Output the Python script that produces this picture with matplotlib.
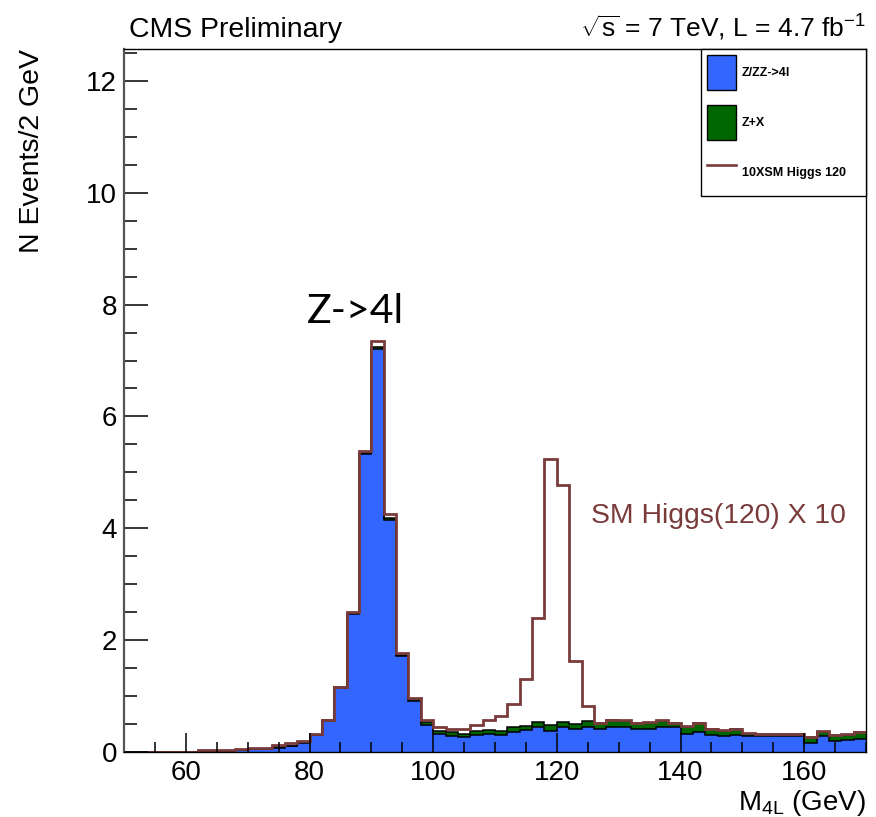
import matplotlib
matplotlib.use("Agg")
import matplotlib.pyplot as plt
import numpy as np
from matplotlib.patches import Patch
from matplotlib.lines import Line2D

plt.rcParams['font.family'] = ['Liberation Sans', 'DejaVu Sans']
plt.rcParams['mathtext.fontset'] = 'custom'
plt.rcParams['mathtext.rm'] = 'Liberation Sans'
plt.rcParams['mathtext.it'] = 'Liberation Sans:italic'
plt.rcParams['mathtext.bf'] = 'Liberation Sans:bold'

# 2 GeV bins, 50 - 170 GeV
edges = np.arange(50, 172, 2)

# Z/ZZ->4l (blue, bottom of stack)
zz = np.array([
    0, 0, 0, 0, 0, 0,
    0.02, 0.02, 0.02, 0.03,
    0.05, 0.05, 0.08, 0.10, 0.16,
    0.30, 0.56, 1.15, 2.46, 5.33,
    7.21, 4.15, 1.71, 0.92, 0.48,
    0.33, 0.29, 0.26, 0.30, 0.33,
    0.30, 0.35, 0.39, 0.44, 0.38,
    0.44, 0.41, 0.44, 0.41, 0.45,
    0.44, 0.41, 0.41, 0.45, 0.44,
    0.33, 0.35, 0.30, 0.29, 0.31,
    0.29, 0.29, 0.29, 0.29, 0.29,
    0.16, 0.29, 0.20, 0.21, 0.23])

# Z+X (green, stacked on top)
zx = np.array([
    0, 0, 0, 0, 0, 0,
    0, 0, 0, 0,
    0.01, 0.01, 0.01, 0.01, 0.01,
    0.01, 0.01, 0.01, 0.02, 0.02,
    0.03, 0.03, 0.03, 0.03, 0.06,
    0.05, 0.06, 0.06, 0.08, 0.06,
    0.08, 0.09, 0.08, 0.09, 0.10,
    0.10, 0.09, 0.11, 0.10, 0.12,
    0.12, 0.10, 0.11, 0.11, 0.07,
    0.12, 0.16, 0.11, 0.09, 0.10,
    0.04, 0.03, 0.03, 0.03, 0.03,
    0.10, 0.07, 0.10, 0.10, 0.12])

# background + 10 x SM Higgs (120), outline only
higgs_total = np.array([
    0, 0, 0, 0, 0, 0,
    0.03, 0.03, 0.03, 0.05,
    0.08, 0.08, 0.12, 0.16, 0.20,
    0.33, 0.58, 1.17, 2.50, 5.38,
    7.34, 4.25, 1.77, 0.97, 0.57,
    0.44, 0.41, 0.41, 0.48, 0.57,
    0.65, 0.85, 1.31, 2.40, 5.24,
    4.78, 1.63, 0.82, 0.52, 0.58,
    0.57, 0.52, 0.53, 0.57, 0.52,
    0.46, 0.52, 0.42, 0.39, 0.42,
    0.34, 0.33, 0.33, 0.33, 0.33,
    0.27, 0.37, 0.31, 0.32, 0.36])

blue = '#3366ff'
green = '#006600'
brown = '#7a3b3b'

fig = plt.figure(figsize=(8.76, 8.17), dpi=100)
ax = fig.add_axes([124 / 876, 65 / 817, 742 / 876, 703 / 817])

ax.stairs(zz, edges, fill=True, color=blue, lw=0)
ax.stairs(zz + zx, edges, baseline=zz, fill=True, color=green, lw=0)
ax.stairs(zz, edges, baseline=None, color='black', lw=1.1)
ax.stairs(zz + zx, edges, baseline=None, color='black', lw=1.1)
ax.stairs(higgs_total, edges, baseline=None, color=brown, lw=2.0)

ax.set_xlim(50, 170)
ax.set_ylim(0, 12.57)

ax.set_xticks(np.arange(60, 161, 20))
ax.set_xticks(np.arange(50, 171, 5), minor=True)
ax.set_yticks(np.arange(0, 13, 2))
ax.set_yticks(np.arange(0, 12.6, 0.5), minor=True)
ax.tick_params(axis='both', which='both', direction='in', top=False, right=False,
               labelsize=20, width=1.1)
ax.tick_params(axis='x', which='major', length=14, pad=6)
ax.tick_params(axis='x', which='minor', length=7)
ax.tick_params(axis='y', which='major', length=17, pad=5)
ax.tick_params(axis='y', which='minor', length=9)

for side in ['top', 'right', 'bottom']:
    ax.spines[side].set_linewidth(1.0)
    ax.spines[side].set_color('black')
ax.spines['left'].set_linewidth(1.6)
ax.spines['left'].set_color('#555555')

ax.set_xlabel(r'M$_{\mathrm{4L}}$ (GeV)', fontsize=20, loc='right')
ax.xaxis.set_label_coords(1.0, -0.051)
ax.set_ylabel('N Events/2 GeV', fontsize=20.5, loc='top')
ax.yaxis.set_label_coords(-0.107, 1.0)

ax.text(0.007, 1.017, 'CMS Preliminary', transform=ax.transAxes,
        fontsize=20.4, ha='left', va='baseline')
ax.text(1.0, 1.017, r'$\sqrt{\mathrm{s}}$ = 7 TeV, L = 4.7 fb$^{\mathrm{-1}}$',
        transform=ax.transAxes, fontsize=19, ha='right', va='baseline')

ax.text(87.4, 7.67, 'Z->4l', fontsize=29.5, family=['Lato', 'DejaVu Sans'],
        ha='center', va='baseline')
ax.text(125.6, 4.1, 'SM Higgs(120) X 10', fontsize=20.4, color=brown,
        ha='left', va='baseline')

handles = [Patch(facecolor=blue, edgecolor='black', lw=1.0),
           Patch(facecolor=green, edgecolor='black', lw=1.0),
           Line2D([0], [0], color=brown, lw=1.9)]
labels = ['Z/ZZ->4l', 'Z+X', '10XSM Higgs 120']
leg = ax.legend(handles, labels, loc='upper left',
                bbox_to_anchor=(0.777, 0.789, 0.223, 0.211), mode='expand',
                borderaxespad=0, prop={'size': 9, 'weight': 'bold'},
                handlelength=2.32, handleheight=3.93, labelspacing=1.2,
                borderpad=0.48, handletextpad=0.48, fancybox=False,
                edgecolor='black', framealpha=1)
leg.get_frame().set_linewidth(1.0)

fig.savefig('out.png', dpi=100)
